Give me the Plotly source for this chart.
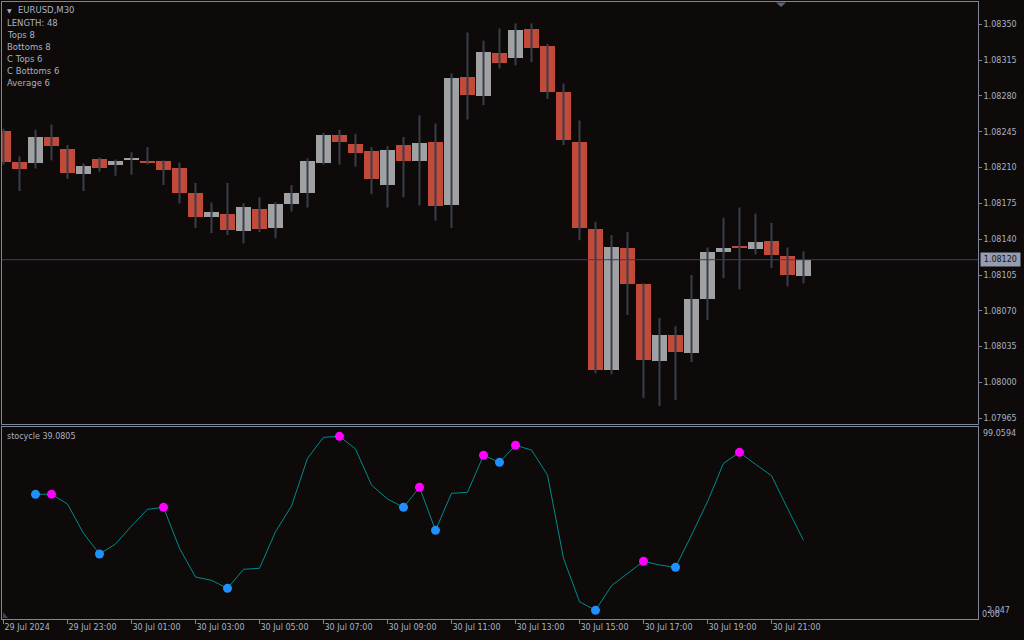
import plotly.graph_objects as go

# ---------------- data ----------------
opens = [1.08246, 1.08215, 1.08214, 1.08240, 1.08228, 1.08204, 1.08218, 1.08213, 1.08218, 1.08216,
         1.08216, 1.08210, 1.08185, 1.08162, 1.08165, 1.08148, 1.08170, 1.08151, 1.08174, 1.08185,
         1.08214, 1.08242, 1.08233, 1.08226, 1.08193, 1.08232, 1.08216, 1.08235, 1.08173, 1.08299,
         1.08280, 1.08322, 1.08317, 1.08345, 1.08329, 1.08284, 1.08235, 1.08150, 1.08012, 1.08131,
         1.08096, 1.08021, 1.08046, 1.08029, 1.08082, 1.08128, 1.08133, 1.08130, 1.08138, 1.08124,
         1.08104]
highs = [1.08248, 1.08221, 1.08247, 1.08252, 1.08232, 1.08214, 1.08220, 1.08218, 1.08225, 1.08230,
         1.08217, 1.08215, 1.08195, 1.08176, 1.08195, 1.08175, 1.08181, 1.08176, 1.08193, 1.08219,
         1.08244, 1.08247, 1.08243, 1.08230, 1.08231, 1.08240, 1.08261, 1.08253, 1.08302, 1.08342,
         1.08334, 1.08346, 1.08351, 1.08351, 1.08331, 1.08292, 1.08256, 1.08157, 1.08144, 1.08147,
         1.08097, 1.08063, 1.08055, 1.08105, 1.08132, 1.08161, 1.08171, 1.08165, 1.08156, 1.08132,
         1.08128]
lows = [1.08213, 1.08187, 1.08209, 1.08217, 1.08199, 1.08187, 1.08206, 1.08202, 1.08203, 1.08213,
        1.08193, 1.08175, 1.08151, 1.08146, 1.08144, 1.08136, 1.08147, 1.08141, 1.08167, 1.08171,
        1.08213, 1.08213, 1.08211, 1.08184, 1.08171, 1.08181, 1.08173, 1.08158, 1.08151, 1.08257,
        1.08271, 1.08307, 1.08310, 1.08313, 1.08277, 1.08232, 1.08139, 1.08009, 1.08008, 1.08066,
        1.07985, 1.07977, 1.07983, 1.08020, 1.08061, 1.08102, 1.08091, 1.08125, 1.08112, 1.08094,
        1.08097]
closes = [1.08215, 1.08209, 1.08240, 1.08231, 1.08205, 1.08212, 1.08210, 1.08216, 1.08219, 1.08214,
          1.08208, 1.08185, 1.08162, 1.08167, 1.08149, 1.08171, 1.08150, 1.08174, 1.08185, 1.08216,
          1.08242, 1.08235, 1.08224, 1.08199, 1.08227, 1.08216, 1.08234, 1.08172, 1.08298, 1.08281,
          1.08323, 1.08312, 1.08344, 1.08327, 1.08284, 1.08237, 1.08151, 1.08012, 1.08132, 1.08096,
          1.08022, 1.08046, 1.08030, 1.08082, 1.08128, 1.08131, 1.08131, 1.08137, 1.08125, 1.08105,
          1.08120]

stocycle = [None, None, 66.72, 66.80, 61.31, 44.98, 33.44, 39.01, 49.05, 58.36,
            59.47, 36.62, 20.61, 18.77, 14.31, 24.91, 25.46, 45.87, 60.20, 86.79,
            98.50, 99.0594, 91.98, 71.91, 64.10, 59.47, 70.63, 46.65, 67.28, 67.84,
            88.47, 84.56, 94.04, 91.42, 77.48, 31.04, 6.84, 2.047, 15.76, 22.68,
            29.37, 27.30, 26.02, 44.03, 62.60, 84.01, 90.14, 83.45, 77.09, 58.92,
            41.08]
top_idx = [3, 10, 21, 26, 30, 32, 40, 46]
bottom_idx = [2, 6, 14, 25, 27, 31, 37, 42]

tick_idx = [0, 4, 8, 12, 16, 20, 24, 28, 32, 36, 40, 44, 48]
tick_text = ["29 Jul 2024", "29 Jul 23:00", "30 Jul 01:00", "30 Jul 03:00", "30 Jul 05:00",
             "30 Jul 07:00", "30 Jul 09:00", "30 Jul 11:00", "30 Jul 13:00", "30 Jul 15:00",
             "30 Jul 17:00", "30 Jul 19:00", "30 Jul 21:00"]
price_ticks = [1.08350, 1.08315, 1.08280, 1.08245, 1.08210, 1.08175, 1.08140,
               1.08105, 1.08070, 1.08035, 1.08000, 1.07965]
current_price = 1.08120
info_lines = ["LENGTH: 48", "Tops 8", "Bottoms 8", "C Tops 6", "C Bottoms 6", "Average 6"]
stocycle_max_label = "99.0594"
stocycle_min_label = "2.047"

# ---------------- style ----------------
BG = "#0d0a09"
FRAME = "#80869a"
TXT = "#a9b1c4"
UP = "#a0a1a3"
DOWN = "#c14a3b"
WICK = "#3a3e4a"
FONT = "DejaVu Sans"

W, H = 1024, 640
ML, MR, MT, MB = 2, 46, 2, 21
PW, PH = W - ML - MR, H - MT - MB


def px(x):
    return (x - ML) / PW


def py(y):
    return (H - MB - y) / PH


n = len(opens)
idx = list(range(n))

fig = go.Figure()

# wicks
wx, wy = [], []
for i in idx:
    wx += [i, i, None]
    wy += [lows[i], highs[i], None]
fig.add_trace(go.Scatter(x=wx, y=wy, mode="lines", line=dict(color=WICK, width=2),
                         hoverinfo="skip", xaxis="x", yaxis="y", showlegend=False))

# bodies
bases = [min(o, c) for o, c in zip(opens, closes)]
heights = [max(abs(c - o), 0.000012) for o, c in zip(opens, closes)]
colors = [UP if c >= o else DOWN for o, c in zip(opens, closes)]
fig.add_trace(go.Bar(x=idx, y=heights, base=bases, width=15 / 16,
                     marker=dict(color=colors, line=dict(width=0)),
                     xaxis="x", yaxis="y", showlegend=False))

# indicator
fig.add_trace(go.Scatter(x=idx, y=stocycle, mode="lines", line=dict(color="#008b8b", width=1),
                         xaxis="x2", yaxis="y2", showlegend=False))
fig.add_trace(go.Scatter(x=bottom_idx, y=[stocycle[i] for i in bottom_idx], mode="markers",
                         marker=dict(color="#1e90ff", size=9, line=dict(width=0)),
                         xaxis="x2", yaxis="y2", showlegend=False))
fig.add_trace(go.Scatter(x=top_idx, y=[stocycle[i] for i in top_idx], mode="markers",
                         marker=dict(color="#ff00ff", size=9, line=dict(width=0)),
                         xaxis="x2", yaxis="y2", showlegend=False))

xrange = [(ML - 3.5) / 16, (W - MR - 3.5) / 16]
top_dom = [py(424), 1]
bot_dom = [0, py(427)]

fig.update_layout(
    width=W, height=H,
    margin=dict(l=ML, r=MR, t=MT, b=MB),
    paper_bgcolor=BG, plot_bgcolor=BG,
    font=dict(family=FONT, size=8, color=TXT),
    showlegend=False, bargap=0, hovermode=False,
    xaxis=dict(domain=[0, 1], anchor="y", range=xrange, showgrid=False, zeroline=False,
               showticklabels=False, ticks="", showline=True, mirror=True,
               linecolor=FRAME, linewidth=1),
    yaxis=dict(domain=top_dom, anchor="x", side="right", range=[1.0795945, 1.0837179],
               showgrid=False, zeroline=False, tickvals=price_ticks,
               ticktext=["%.5f" % v for v in price_ticks], ticks="outside", ticklen=3,
               tickcolor=FRAME, showline=True, mirror=True, linecolor=FRAME, linewidth=1,
               tickfont=dict(family=FONT, size=8, color=TXT)),
    xaxis2=dict(domain=[0, 1], anchor="y2", range=xrange, matches="x", showgrid=False,
                zeroline=False, tickvals=tick_idx, ticktext=tick_text, ticks="outside",
                ticklen=4, tickcolor=FRAME, ticklabelposition="outside right",
                showline=True, mirror=True, linecolor=FRAME, linewidth=1,
                tickfont=dict(family=FONT, size=8, color=TXT)),
    yaxis2=dict(domain=bot_dom, anchor="x2", side="right", range=[-2.80, 104.25],
                showgrid=False, zeroline=False, showticklabels=False, ticks="",
                showline=True, mirror=True, linecolor=FRAME, linewidth=1),
)

# current price line and label
fig.add_shape(type="line", xref="paper", yref="y", x0=0, x1=1, y0=current_price, y1=current_price,
              line=dict(color="#363d78", width=1))
fig.add_annotation(xref="paper", yref="y", x=px(980), y=current_price, xanchor="left",
                   yanchor="middle", text="&#8202;%.5f&#8202;" % current_price, showarrow=False,
                   bgcolor="#959bb0", font=dict(family=FONT, size=8, color="#151515"),
                   borderpad=2)

# chart shift marker
fig.add_shape(type="path", xref="paper", yref="paper",
              path="M %f %f L %f %f L %f %f Z" % (px(776), py(2.5), px(786), py(2.5), px(781), py(7)),
              fillcolor="#5a6080", line=dict(width=0))
# corner marker bottom pane
fig.add_shape(type="path", xref="paper", yref="paper",
              path="M %f %f L %f %f L %f %f Z" % (px(3), py(612), px(3), py(618), px(8), py(618)),
              fillcolor="#3a4068", line=dict(width=0))

# top-left info text
fig.add_annotation(xref="paper", yref="paper", x=px(5), y=py(10), xanchor="left", yanchor="middle",
                   text="▼", showarrow=False, font=dict(family=FONT, size=6, color=TXT))
fig.add_annotation(xref="paper", yref="paper", x=px(16), y=py(10), xanchor="left", yanchor="middle",
                   text="EURUSD,M30", showarrow=False, font=dict(family=FONT, size=8.5, color=TXT))
for j, line in enumerate(info_lines):
    fig.add_annotation(xref="paper", yref="paper", x=px(5), y=py(23 + 12 * j), xanchor="left",
                       yanchor="middle", text=line, showarrow=False,
                       font=dict(family=FONT, size=8.5, color=TXT))

fig.add_annotation(xref="paper", yref="paper", x=px(5), y=py(436), xanchor="left", yanchor="middle",
                   text="stocycle 39.0805", showarrow=False, font=dict(family=FONT, size=8, color=TXT))

# indicator pane scale labels
fig.add_annotation(xref="paper", yref="paper", x=px(981), y=py(434), xanchor="left", yanchor="middle",
                   text=stocycle_max_label, showarrow=False, font=dict(family=FONT, size=8, color=TXT))
fig.add_annotation(xref="paper", yref="paper", x=px(985), y=py(610), xanchor="left", yanchor="middle",
                   text=stocycle_min_label, showarrow=False, font=dict(family=FONT, size=8, color=TXT))
fig.add_annotation(xref="paper", yref="paper", x=px(980), y=py(614), xanchor="left", yanchor="middle",
                   text="0.00", showarrow=False, font=dict(family=FONT, size=8, color=TXT))

fig.write_html("out.html", config={"displayModeBar": False},
               post_script="document.body.style.margin='0';document.body.style.overflow='hidden';")
